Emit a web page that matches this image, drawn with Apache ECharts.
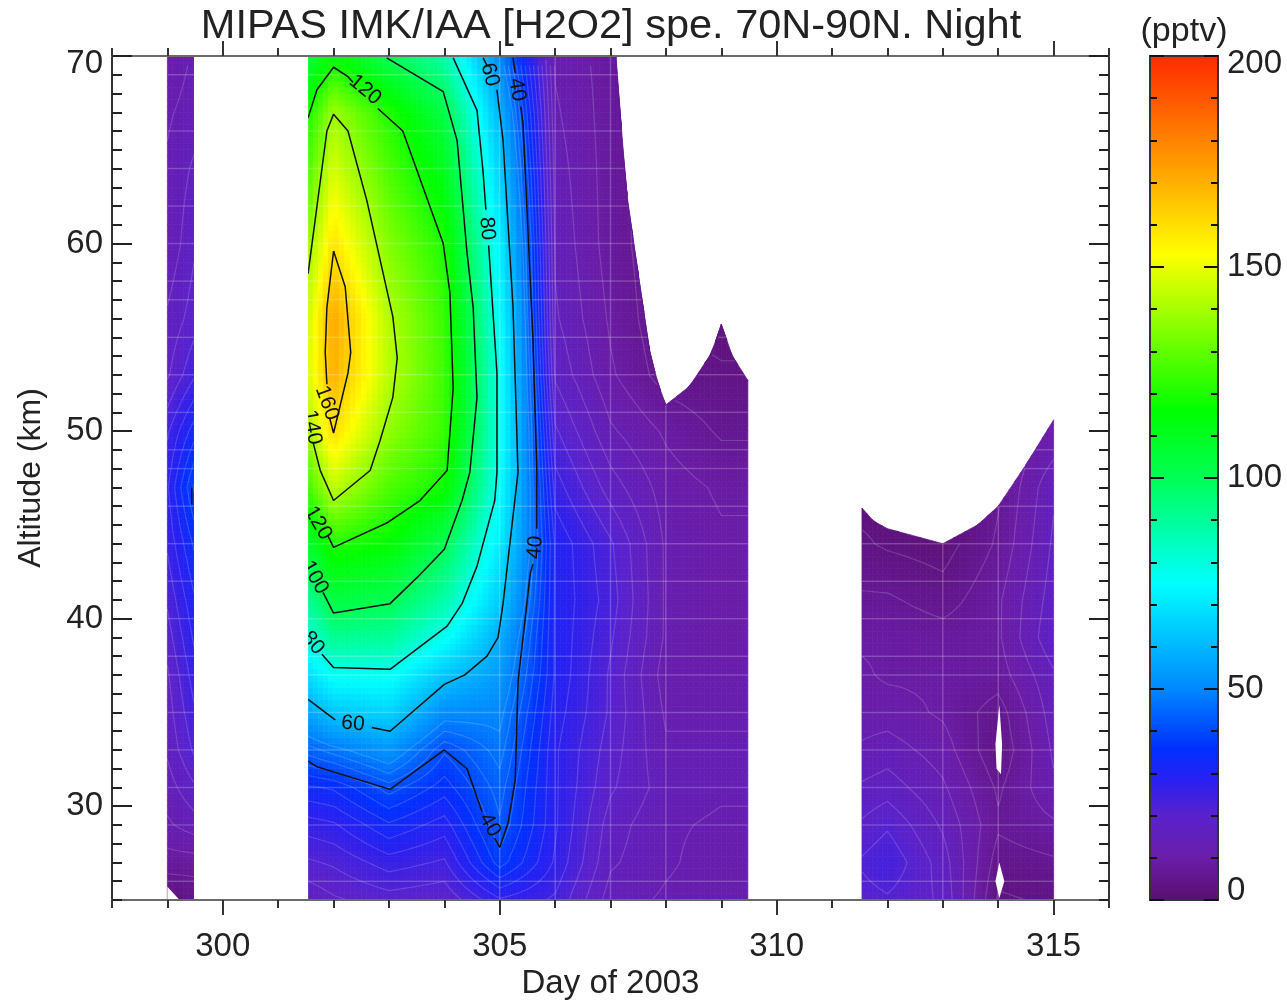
<!DOCTYPE html>
<html>
<head>
<meta charset="utf-8">
<style>html,body{margin:0;padding:0;background:#fff}#c{width:1287px;height:1004px;filter:blur(0.5px)}</style>
<script src="https://cdn.jsdelivr.net/npm/echarts@6/dist/echarts.min.js"></script>
</head>
<body>
<div id="c"></div>
<script>
// ---------- DATA ----------
const titleText = 'MIPAS IMK/IAA [H2O2] spe. 70N-90N. Night';
const xMajorTicks = [300, 305, 310, 315];
const yMajorTicks = [30, 40, 50, 60, 70];
const altitudes = [25, 27, 29, 31, 33, 35, 37, 39, 41, 44, 47, 50, 53, 56, 60, 64, 67, 70];
// mixing ratio (pptv) at each altitude above, one list per day
const d299   = [3, 8, 12, 14, 16, 17, 18, 20, 22, 25, 27, 24, 18, 16, 13, 13, 12, 10];
const d299_5 = [4, 8, 14, 18, 22, 24, 26, 28, 30, 34, 40, 32, 24, 20, 18, 16, 14, 13];
const d301_5 = [16, 21, 26, 33, 44, 56, 68, 80, 90, 107, 125, 139, 147, 145, 137, 127, 119, 104];
const d302   = [18, 22, 27, 34, 47, 63, 77, 91, 104, 121, 144, 160, 170, 172, 159, 147, 139, 116];
const d303   = [20, 26, 33, 41, 53, 66, 77, 90, 101, 116, 127, 137, 143, 142, 135, 127, 121, 100];
const d304   = [19, 24, 29, 35, 40, 51, 63, 77, 88, 101, 118, 124, 125, 124, 120, 111, 103, 88];
const d305   = [27, 38, 42, 44, 47, 50, 54, 58, 64, 71, 76, 78, 78, 76, 72, 65, 59, 50];
const d306   = [24, 27, 28, 28, 28, 29, 30, 30, 30, 30, 26, 22, 18, 16, 15, 14, 13, 12];
const d307   = [14, 16, 17, 19, 20, 21, 21, 22, 23, 22, 17, 13, 10, 9, 8, 8, 8, 8];
const d308   = [12, 13, 13, 14, 13, 12, 11, 12, 12, 12, 11, 9, 5, 4, 4, 4, 4, 4];
const d309   = [11, 11, 12, 13, 13, 12, 11, 10, 10, 10, 9, 6, 4, 2, 2, 2, 2, 2];
const d309_5 = [11, 11, 12, 13, 13, 12, 11, 10, 10, 10, 9, 6, 4, 2, 2, 2, 2, 2];
const d311_5 = [20, 22, 19, 16, 13, 11, 10, 9, 7, 4, 2, 2, 2, 2, 2, 2, 2, 2];
const d312   = [21, 24, 21, 17, 14, 11, 9, 9, 7, 3, 2, 2, 2, 2, 2, 2, 2, 2];
const d313   = [18, 17, 15, 13, 11, 9, 9, 8, 5, 2, 2, 2, 2, 2, 2, 2, 2, 2];
const d314   = [3, 5, 7, 6, 4, 5, 8, 9, 9, 7, 6, 6, 6, 6, 6, 6, 6, 6];
const d315   = [4, 6, 9, 12, 13, 14, 15, 18, 17, 16, 15, 10, 10, 10, 10, 10, 10, 10];
const dayColumns = [
  [299, d299], [299.48, d299_5],
  [301.54, d301_5], [302, d302], [303, d303], [304, d304], [305, d305], [306, d306],
  [307, d307], [308, d308], [309, d309], [309.48, d309_5],
  [311.54, d311_5], [312, d312], [313, d313], [314, d314], [315, d315]
];
const dataSpans = [[299, 299.48], [301.54, 309.48], [311.54, 315]];
// upper limit of valid data [day, km]
const topLimit = [[299, 70], [307.13, 70], [307.2, 66], [307.26, 63.4], [307.44, 59.6], [307.71, 54.2], [307.85, 52.6], [308, 51.4],
  [308.43, 52.4], [308.83, 54.2], [309, 55.7], [309.2, 54], [309.48, 52.7],
  [311.54, 45.9], [311.75, 45.2], [312, 44.8], [313, 44], [313.63, 45], [314, 46], [314.5, 48.2], [315, 50.6]];
// regions without data drawn over the field [day, km]
const gapLeft = [[299.48, 25], [301.54, 25], [301.54, 70], [299.48, 70]];
const gapCorner = [[299, 25], [299.22, 25], [299, 25.7]];
const holeUpper = [[314.02, 35.4], [313.95, 33.3], [313.97, 32], [314.05, 31.7], [314.07, 33.3]];
const holeLower = [[314.02, 27], [314.11, 26], [314.02, 25.1], [313.95, 26]];
const maskPolygons = [gapLeft, gapCorner, holeUpper, holeLower];
// pale retrieval-grid lines
const paleLevels = [26, 29, 31, 33, 35, 37, 38, 40, 42, 44, 46, 48, 49, 51, 53, 55, 57, 58, 60, 62, 64, 66, 69];
const paleDays = [305, 306, 307, 308, 313, 314];
// pale contour levels of the low values (pptv)
const paleContourLevels = [3.5, 6.5, 9.5, 12.5, 15.5, 18.5, 21.5, 24.5, 27.5, 30.5, 33.5, 36.5, 39.5, 42.5, 45.5, 48.5];
// contour lines: value, then runs of [day, km]
const contour160 = [
  [[302,59.6],[301.88,56.6],[301.85,54.2],[301.88,52.5]],
  [[301.93,50.7],[302,49.9],[302.26,53.1],[302.31,54.2],[302.21,57.7],[302,59.6]]];
const contour140 = [
  [[301.54,58.4],[301.88,66],[302,66.9],[302.26,66],[302.6,62.3],[303.07,56.1],[303.15,53.9],[303.07,51.8],[302.84,49.5],[302.66,47.9],[302,46.3],[301.76,47.9],[301.63,49.4]]];
const contour120 = [
  [[301.54,66.7],[301.7,68.2],[302,69.4],[302.26,68.9],[302.35,68.6]],
  [[302.8,67.2],[303.25,66],[303.98,60],[304.1,57.4],[304.16,52.3],[304.05,47.9],[303.56,46.3],[302.96,45.1],[302,43.8],[301.9,44.4]]];
const contour100 = [
  [[302.96,69.9],[303.98,68.1],[304.23,65.5],[304.41,59.5],[304.52,56.6],[304.59,51.8],[304.46,47.8],[304.32,46.3],[304,43.7],[303.51,42.2],[303.02,40.8],[302,40.3],[301.81,41.4]]];
const contour80 = [
  [[304.16,69.9],[304.59,67.1],[304.7,63.8],[304.75,61.8]],
  [[304.8,59.9],[304.95,53.1],[304.95,47.8],[304.91,46.3],[304.59,42.8],[304.32,40.8],[304.05,39.6],[303.02,37.3],[302,37.4],[301.79,38.1]]];
const contour60 = [
  [[304.7,69.9],[304.77,69.5]],
  [[304.95,68.2],[305.06,65.5],[305.24,56.6],[305.33,47.8],[305.06,40.8],[304.97,39],[304.77,38],[304.37,37],[304,36.5],[303.02,34],[302.69,34.2]],
  [[302.03,34.6],[301.54,35.7]]];
const contour40 = [
  [[305.24,69.9],[305.28,69.1]],
  [[305.38,67.3],[305.42,66.4],[305.6,54.9],[305.67,47.8],[305.67,44.8]],
  [[305.6,42.9],[305.55,42.4],[305.33,36.6],[305.28,31.4],[305.15,29.1],[305,27.8],[304.91,28.3]],
  [[304.68,29.7],[304.41,32],[304,33],[303.02,30.9],[301.7,32.1],[301.54,32.4]],
  [[299.44,47],[299.44,46.1]]];
const allContours = [contour160, contour140, contour120, contour100, contour80, contour60, contour40];
// contour labels: text, day, km, clockwise angle
const contourLabels = [
  ['120', 302.57, 68.2, 40], ['60', 304.82, 69, 75], ['40', 305.31, 68.2, 80], ['80', 304.77, 60.8, 85],
  ['160', 301.88, 51.5, 70], ['140', 301.61, 50.2, 80], ['120', 301.72, 45.1, 60], ['100', 301.66, 42.2, 60],
  ['80', 301.63, 38.7, 50], ['60', 302.35, 34.4, 5], ['40', 305.64, 43.8, -85], ['40', 304.82, 29, 60]
];
// colour scale
const colorValues = [0, 10, 20, 28, 36, 50, 75, 100, 116, 153, 175, 200];
const colorHex = ['#5a0f6e', '#6a1da8', '#5a22cc', '#2a20f0', '#0030ff', '#0088ff', '#00ffff', '#00ff55', '#00ff00', '#ffff00', '#ff9900', '#ff2a00'];

// ---------- helpers ----------
const rgbStops = colorHex.map(h => [1, 3, 5].map(i => parseInt(h.substr(i, 2), 16)));
function colorOf(v) {
  v = Math.max(0, Math.min(200, v));
  let i = 0;
  while (i < colorValues.length - 2 && v > colorValues[i + 1]) i++;
  const t = (v - colorValues[i]) / (colorValues[i + 1] - colorValues[i]);
  const a = rgbStops[i], b = rgbStops[i + 1];
  return 'rgb(' + [0, 1, 2].map(k => Math.round(a[k] + (b[k] - a[k]) * t)).join(',') + ')';
}
function topAt(d) {
  for (let i = 0; i < topLimit.length - 1; i++) {
    const p = topLimit[i], q = topLimit[i + 1];
    if (d <= q[0]) return p[1] + (q[1] - p[1]) * (d - p[0]) / (q[0] - p[0]);
  }
  return topLimit[topLimit.length - 1][1];
}
const cells = [];
for (let c = 0; c < dayColumns.length - 1; c++) {
  const [d0, v0] = dayColumns[c], [d1, v1] = dayColumns[c + 1];
  if (!dataSpans.some(s => d0 >= s[0] && d1 <= s[1])) continue;
  for (let r = 0; r < altitudes.length - 1; r++) {
    cells.push({ d0, d1, a0: altitudes[r], a1: altitudes[r + 1], v00: v0[r], v10: v1[r], v01: v0[r + 1], v11: v1[r + 1] });
  }
}
function cellValue(c, s, t) {
  return c.v00 * (1 - s) * (1 - t) + c.v10 * s * (1 - t) + c.v01 * (1 - s) * t + c.v11 * s * t;
}
function renderCell(params, api) {
  const c = cells[params.dataIndex];
  const n = Math.max(3, Math.ceil((c.d1 - c.d0) * 10)), m = Math.ceil((c.a1 - c.a0) * 3);
  const children = [];
  for (let i = 0; i < n; i++) {
    const x0 = c.d0 + (c.d1 - c.d0) * i / n, x1 = c.d0 + (c.d1 - c.d0) * (i + 1) / n;
    const t0 = topAt(x0), t1 = topAt(x1);
    for (let j = 0; j < m; j++) {
      const y0 = c.a0 + (c.a1 - c.a0) * j / m, y1 = c.a0 + (c.a1 - c.a0) * (j + 1) / m;
      if (y0 >= Math.max(t0, t1)) continue;
      const col = colorOf(cellValue(c, (i + .5) / n, (j + .5) / m));
      children.push({
        type: 'polygon',
        shape: { points: [api.coord([x0, Math.min(y0, t0)]), api.coord([x1, Math.min(y0, t1)]), api.coord([x1, Math.min(y1, t1)]), api.coord([x0, Math.min(y1, t0)])] },
        style: { fill: col, stroke: col, lineWidth: 0.7 }
      });
    }
  }
  return { type: 'group', children };
}
// pale contours of the low values, traced through each cell of the field
function renderPaleContours(params, api) {
  const c = cells[params.dataIndex];
  const N = 6, children = [];
  const val = (i, j) => cellValue(c, i / N, j / N);
  const pos = (i, j) => [c.d0 + (c.d1 - c.d0) * i / N, c.a0 + (c.a1 - c.a0) * j / N];
  for (let i = 0; i < N; i++) for (let j = 0; j < N; j++) {
    const corners = [[i, j], [i + 1, j], [i + 1, j + 1], [i, j + 1]];
    paleContourLevels.forEach(L => {
      const pts = [];
      for (let k = 0; k < 4; k++) {
        const A = corners[k], B = corners[(k + 1) % 4], va = val(A[0], A[1]), vb = val(B[0], B[1]);
        if ((va < L) !== (vb < L)) {
          const f = (L - va) / (vb - va), pa = pos(A[0], A[1]), pb = pos(B[0], B[1]);
          pts.push([pa[0] + (pb[0] - pa[0]) * f, pa[1] + (pb[1] - pa[1]) * f]);
        }
      }
      if (pts.length === 2 && pts[0][1] < topAt(pts[0][0]) && pts[1][1] < topAt(pts[1][0])) {
        const a = api.coord(pts[0]), b = api.coord(pts[1]);
        children.push({ type: 'line', shape: { x1: a[0], y1: a[1], x2: b[0], y2: b[1] }, style: { stroke: 'rgba(255,255,255,0.16)', lineWidth: 1.2 } });
      }
    });
  }
  return { type: 'group', children };
}
// pale grid runs
const paleRuns = [];
paleLevels.forEach(a => dataSpans.forEach(s => {
  let start = null, last = null;
  for (let d = s[0]; d <= s[1] + 1e-6; d += 0.02) {
    if (a < topAt(d)) { if (start === null) start = d; last = d; }
    else if (start !== null) { paleRuns.push([start, a, last, a]); start = null; }
  }
  if (start !== null) paleRuns.push([start, a, last, a]);
}));
paleDays.forEach(d => paleRuns.push([d, 25, d, Math.min(70, topAt(d))]));

const textColor = '#222';
const axisFont = { fontFamily: 'Liberation Sans', fontSize: 33, color: textColor };
function xAx(pos, major, gridIndex, extra) {
  return Object.assign({
    type: 'value', gridIndex, position: pos, min: 298, max: 316, z: 10, splitLine: { show: false },
    axisLine: { show: true, onZero: false, lineStyle: { color: '#6a6a6a', width: 2 } },
    axisTick: major ? { show: true, length: 15, customValues: xMajorTicks, lineStyle: { color: '#333', width: 2 } }
                    : { show: true, length: 8, lineStyle: { color: '#333', width: 2 } },
    axisLabel: { show: false }
  }, major ? {} : { interval: 1 }, extra || {});
}
function yAx(pos, major, extra) {
  return Object.assign({
    type: 'value', gridIndex: 0, position: pos, min: 25, max: 70, z: 10, splitLine: { show: false },
    axisLine: { show: true, onZero: false, lineStyle: { color: '#333', width: 2 } },
    axisTick: major ? { show: true, inside: true, length: 20, customValues: yMajorTicks, lineStyle: { color: '#222', width: 2 } }
                    : { show: true, inside: true, length: 10, lineStyle: { color: '#222', width: 2 } },
    axisLabel: { show: false }
  }, major ? {} : { interval: 1 }, extra || {});
}
function cbAx(pos, major, extra) {
  return Object.assign({
    type: 'value', gridIndex: 1, position: pos, min: 0, max: 200, interval: major ? 50 : 10, z: 10, splitLine: { show: false },
    axisLine: { show: true, onZero: false, lineStyle: { color: '#333', width: 2 } },
    axisTick: { show: true, inside: true, length: major ? 14 : 7, lineStyle: { color: '#111', width: 2 } },
    axisLabel: { show: false }
  }, extra || {});
}
function cbX(pos) {
  return { type: 'value', gridIndex: 1, position: pos, min: 0, max: 1, z: 10, splitLine: { show: false },
    axisLine: { show: true, onZero: false, lineStyle: { color: '#333', width: 2 } }, axisTick: { show: false }, axisLabel: { show: false } };
}

const contourSeries = [];
allContours.forEach(runs => runs.forEach(run => contourSeries.push({
  type: 'line', xAxisIndex: 0, yAxisIndex: 0, data: run, showSymbol: false, symbol: 'none', z: 4, silent: true,
  lineStyle: { color: '#111', width: 1.5 }, animation: false
})));

const option = {
  animation: false,
  backgroundColor: '#fff',
  title: [
    { text: titleText, left: 606, top: 1, textAlign: 'center', textStyle: { fontFamily: 'Liberation Sans', fontSize: 41.5, fontWeight: 'normal', color: textColor } },
    { text: '(pptv)', left: 1179, top: 10, textAlign: 'center', textStyle: { fontFamily: 'Liberation Sans', fontSize: 34, fontWeight: 'normal', color: textColor } }
  ],
  grid: [
    { left: 112, top: 56, width: 997, height: 844, containLabel: false, outerBoundsMode: 'none' },
    { left: 1150, top: 56, width: 68, height: 844, containLabel: false, outerBoundsMode: 'none' }
  ],
  xAxis: [
    xAx('bottom', true, 0, {
      name: 'Day of 2003', nameLocation: 'middle', nameGap: 67,
      nameTextStyle: { fontFamily: 'Liberation Sans', fontSize: 33, color: textColor },
      axisLabel: Object.assign({ show: true, customValues: xMajorTicks, margin: 30 }, axisFont)
    }),
    xAx('bottom', false, 0),
    xAx('top', true, 0),
    xAx('top', false, 0),
    cbX('bottom'), cbX('top')
  ],
  yAxis: [
    yAx('left', true, {
      name: 'Altitude (km)', nameLocation: 'middle', nameGap: 65, nameRotate: 90,
      nameTextStyle: { fontFamily: 'Liberation Sans', fontSize: 32, color: textColor },
      axisLabel: Object.assign({
        show: true, customValues: yMajorTicks, margin: 9,
        formatter: v => v === 70 ? '{d|70}' : String(v),
        rich: { d: Object.assign({ padding: [16, 0, 0, 0] }, axisFont) }
      }, axisFont)
    }),
    yAx('left', false),
    yAx('right', true),
    yAx('right', false),
    cbAx('left', false), cbAx('left', true), cbAx('right', false),
    cbAx('right', true, {
      axisLabel: Object.assign({
        show: true, margin: 9,
        formatter: v => v === 200 ? '{t|200}' : v === 0 ? '{b|0}' : String(v),
        rich: {
          t: Object.assign({ padding: [16, 0, 0, 0] }, axisFont),
          b: Object.assign({ padding: [0, 0, 18, 0] }, axisFont)
        }
      }, axisFont)
    })
  ],
  series: [
    { type: 'custom', name: 'field', xAxisIndex: 0, yAxisIndex: 0, z: 1, silent: true, progressive: 0, clip: true,
      data: cells.map(c => [c.d0, c.a0]), encode: { x: 0, y: 1 }, renderItem: renderCell },
    { type: 'custom', name: 'paleContours', xAxisIndex: 0, yAxisIndex: 0, z: 2, silent: true, progressive: 0, clip: true,
      data: cells.map(c => [c.d0, c.a0]), encode: { x: 0, y: 1 }, renderItem: renderPaleContours },
    { type: 'custom', name: 'pale', xAxisIndex: 0, yAxisIndex: 0, z: 2, silent: true, progressive: 0, clip: true,
      data: paleRuns.map(r => [r[0], r[1]]), encode: { x: 0, y: 1 },
      renderItem: (p, api) => {
        const r = paleRuns[p.dataIndex], a = api.coord([r[0], r[1]]), b = api.coord([r[2], r[3]]);
        return { type: 'line', shape: { x1: a[0], y1: a[1], x2: b[0], y2: b[1] }, style: { stroke: 'rgba(255,255,255,0.2)', lineWidth: 1.5 } };
      } },
    ...contourSeries,
    { type: 'custom', name: 'labels', xAxisIndex: 0, yAxisIndex: 0, z: 5, silent: true, progressive: 0, clip: true,
      data: contourLabels.map(l => [l[1], l[2]]), encode: { x: 0, y: 1 },
      renderItem: (p, api) => {
        const l = contourLabels[p.dataIndex], c = api.coord([l[1], l[2]]);
        return { type: 'text', x: c[0], y: c[1], rotation: -l[3] * Math.PI / 180,
          style: { text: l[0], x: 0, y: 0, align: 'center', verticalAlign: 'middle', fontFamily: 'Liberation Sans', fontSize: 21, fill: '#111' } };
      } },
    { type: 'custom', name: 'mask', xAxisIndex: 0, yAxisIndex: 0, z: 6, silent: true, progressive: 0, clip: true,
      data: maskPolygons.map(m => m[0]), encode: { x: 0, y: 1 },
      renderItem: (p, api) => ({ type: 'polygon', shape: { points: maskPolygons[p.dataIndex].map(q => api.coord(q)) }, style: { fill: '#fff' } }) },
    { type: 'custom', name: 'colorbar', xAxisIndex: 4, yAxisIndex: 4, z: 1, silent: true, progressive: 0, clip: true,
      data: [[0, 0, 1, 200]], encode: { x: 0, y: 1 },
      renderItem: (p, api) => {
        const a = api.coord([api.value(0), api.value(1)]), b = api.coord([api.value(2), api.value(3)]);
        const stops = colorValues.map((v, i) => ({ offset: v / 200, color: colorHex[i] }));
        return { type: 'rect', shape: { x: a[0], y: b[1], width: b[0] - a[0], height: a[1] - b[1] },
          style: { fill: new echarts.graphic.LinearGradient(0, 1, 0, 0, stops) } };
      } }
  ]
};
const chart = echarts.init(document.getElementById('c'), null, { renderer: 'canvas', width: 1287, height: 1004 });
chart.setOption(option);
</script>
</body>
</html>
